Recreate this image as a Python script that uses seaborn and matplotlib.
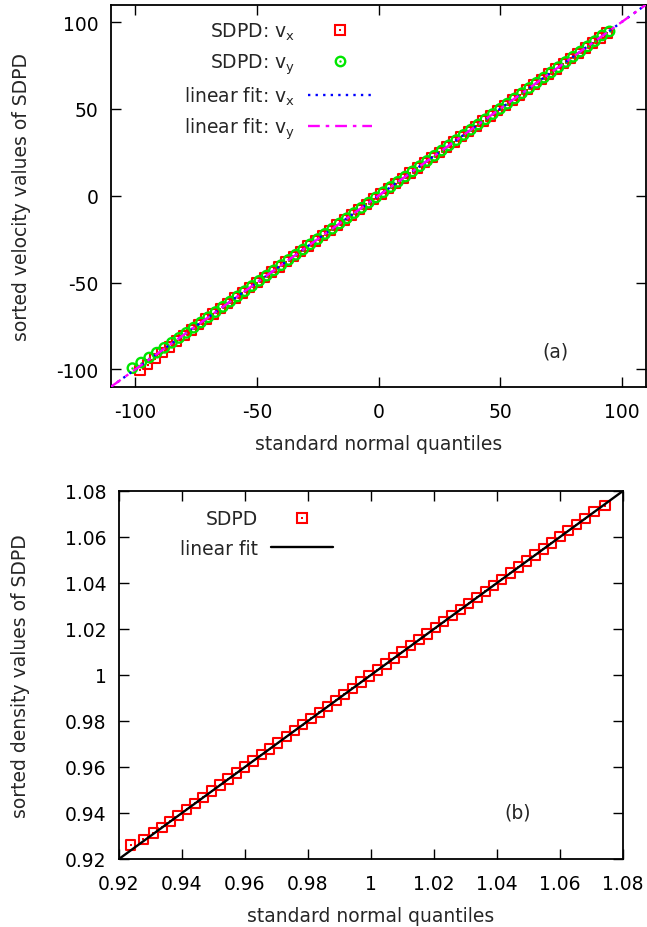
import numpy as np
import matplotlib
matplotlib.use("Agg")
import matplotlib.pyplot as plt
import seaborn as sns
from matplotlib.lines import Line2D
from matplotlib.legend_handler import HandlerTuple

# ---------------- data: panel (a) velocity Q-Q ----------------
vx_quantiles = [-98, -95, -92, -89, -86, -83, -80, -77, -74, -71, -68, -65, -62, -59, -56, -53,
                -50, -47, -44, -41, -38, -35, -32, -29, -26, -23, -20, -17, -14, -11, -8, -5,
                -2, 1, 4, 7, 10, 13, 16, 19, 22, 25, 28, 31, 34, 37, 40, 43, 46, 49, 52, 55,
                58, 61, 64, 67, 70, 73, 76, 79, 82, 85, 88, 91, 94]
vx_sorted = [-100.6, -97.3, -93.8, -90.4, -87.2, -83.8, -80.5, -77.3, -74.1, -71.0, -68.0, -65.0,
             -62.0, -59.0, -56.0, -53.0, -50.0, -47.0, -44.0, -41.0, -38.0, -35.0, -32.0, -29.0,
             -26.0, -23.0, -20.0, -17.0, -14.0, -11.0, -8.0, -5.0, -2.0, 1.0, 4.0, 7.0, 10.0,
             13.0, 16.0, 19.0, 22.0, 25.0, 28.0, 31.0, 34.0, 37.0, 40.0, 43.0, 46.0, 49.0, 52.0,
             55.0, 58.0, 61.0, 64.0, 67.0, 70.0, 73.0, 76.0, 79.0, 82.0, 85.0, 88.0, 90.7, 93.7]
vy_quantiles = [-101.2, -97.6, -94.3, -91.2, -88.1, -85, -82, -79, -76, -73, -70, -67, -64, -61,
                -58, -55, -52, -49, -46, -43, -40, -37, -34, -31, -28, -25, -22, -19, -16, -13,
                -10, -7, -4, -1, 2, 5, 8, 11, 14, 17, 20, 23, 26, 29, 32, 35, 38, 41, 44, 47,
                50, 53, 56, 59, 62, 65, 68, 71, 74, 77, 80, 83, 86, 89, 92, 95]
vy_sorted = [-99.3, -96.1, -93.2, -90.4, -87.6, -84.7, -81.9, -79.0, -76.0, -73.0, -70.0, -67.0,
             -64.0, -61.0, -58.0, -55.0, -52.0, -49.0, -46.0, -43.0, -40.0, -37.0, -34.0, -31.0,
             -28.0, -25.0, -22.0, -19.0, -16.0, -13.0, -10.0, -7.0, -4.0, -1.0, 2.0, 5.0, 8.0,
             11.0, 14.0, 17.0, 20.0, 23.0, 26.0, 29.0, 32.0, 35.0, 38.0, 41.0, 44.0, 47.0, 50.0,
             53.0, 56.0, 59.0, 62.0, 65.0, 68.0, 71.0, 74.0, 77.0, 80.0, 83.0, 86.0, 89.0, 92.3, 94.6]
fit_vx = (1.0, 0.0)   # slope, intercept
fit_vy = (1.0, 0.0)
ticks_a = [-100, -50, 0, 50, 100]

# ---------------- data: panel (b) density Q-Q ----------------
rho_quantiles = [0.9237, 0.9277, 0.9309, 0.9336, 0.9362, 0.9388, 0.9415, 0.9441, 0.9467, 0.9494,
                 0.9520, 0.9546, 0.9573, 0.9599, 0.9625, 0.9652, 0.9678, 0.9704, 0.9731, 0.9757,
                 0.9783, 0.9810, 0.9836, 0.9862, 0.9889, 0.9915, 0.9941, 0.9968, 0.9994, 1.0020,
                 1.0047, 1.0073, 1.0099, 1.0126, 1.0152, 1.0178, 1.0205, 1.0231, 1.0257, 1.0284,
                 1.0310, 1.0336, 1.0363, 1.0389, 1.0415, 1.0442, 1.0468, 1.0494, 1.0521, 1.0547,
                 1.0573, 1.0600, 1.0626, 1.0652, 1.0679, 1.0708, 1.0743]
rho_sorted = [0.9261, 0.9285, 0.9312, 0.9337, 0.9363, 0.9389, 0.9416, 0.9442, 0.9468, 0.9495,
              0.9521, 0.9547, 0.9574, 0.9600, 0.9626, 0.9653, 0.9679, 0.9705, 0.9732, 0.9758,
              0.9784, 0.9811, 0.9837, 0.9863, 0.9890, 0.9916, 0.9942, 0.9969, 0.9995, 1.0021,
              1.0048, 1.0074, 1.0100, 1.0127, 1.0153, 1.0179, 1.0206, 1.0232, 1.0258, 1.0285,
              1.0311, 1.0337, 1.0364, 1.0390, 1.0416, 1.0443, 1.0469, 1.0495, 1.0522, 1.0548,
              1.0574, 1.0601, 1.0627, 1.0653, 1.0680, 1.0710, 1.0736]
fit_rho = (1.0, 0.0)
ticks_b = [0.92, 0.94, 0.96, 0.98, 1.00, 1.02, 1.04, 1.06, 1.08]
tick_labels_b = ["0.92", "0.94", "0.96", "0.98", "1", "1.02", "1.04", "1.06", "1.08"]

# ---------------- style ----------------
sns.set_style("ticks")
plt.rcParams["font.family"] = ["DejaVu Sans"]
plt.rcParams["mathtext.fontset"] = "dejavusans"
plt.rcParams["axes.unicode_minus"] = False
FS = 13.5

RED = "#ff0000"
GREEN = "#00e600"
BLUE = "#0000ff"
MAGENTA = "#ff00ff"

fig = plt.figure(figsize=(6.47, 9.28), dpi=100)
ax1 = fig.add_axes([0.1716, 0.5822, 0.8269, 0.4117])
ax2 = fig.add_axes([0.1839, 0.0733, 0.7790, 0.3966])


def style_axes(ax):
    for sp in ax.spines.values():
        sp.set_visible(True)
        sp.set_linewidth(1.3)
        sp.set_color("black")
    ax.tick_params(direction="in", length=7, width=1.0, top=True, right=True,
                   labelsize=FS, colors="black")
    ax.tick_params(axis="x", pad=11)
    ax.tick_params(axis="y", pad=9)


MS = 6.8
MEW = 1.5
# ---------------- panel (a) ----------------
sns.scatterplot(x=vx_quantiles, y=vx_sorted, ax=ax1, marker="s", s=MS**2,
                facecolor="none", edgecolor=RED, linewidth=MEW, zorder=3)
sns.scatterplot(x=vx_quantiles, y=vx_sorted, ax=ax1, marker="s", s=3,
                color=RED, edgecolor=RED, linewidth=0, zorder=3)
sns.scatterplot(x=vy_quantiles, y=vy_sorted, ax=ax1, marker="o", s=MS**2,
                facecolor="none", edgecolor=GREEN, linewidth=MEW + 0.2, zorder=4)
sns.scatterplot(x=vy_quantiles, y=vy_sorted, ax=ax1, marker="o", s=3,
                color=GREEN, edgecolor=GREEN, linewidth=0, zorder=4)
ax1.set_xlim(-110, 110)
ax1.set_ylim(-110, 110)
xa = np.array(ax1.get_xlim())
sns.lineplot(x=xa, y=fit_vx[0] * xa + fit_vx[1], ax=ax1, color=BLUE, lw=1.7,
             linestyle=(0, (1, 2.2)), errorbar=None, zorder=5)
sns.lineplot(x=xa, y=fit_vy[0] * xa + fit_vy[1], ax=ax1, color=MAGENTA, lw=1.7,
             linestyle=(0, (5, 2.5, 1.5, 2.5)), errorbar=None, zorder=6)
ax1.set_xticks(ticks_a)
ax1.set_yticks(ticks_a)
ax1.set_xticklabels([str(t) for t in ticks_a])
ax1.set_yticklabels([str(t) for t in ticks_a])
style_axes(ax1)
ax1.set_xlabel("standard normal quantiles", fontsize=FS)
ax1.set_ylabel("sorted velocity values of SDPD", fontsize=FS)
ax1.xaxis.set_label_coords(0.5, -0.125)
ax1.yaxis.set_label_coords(-0.150, 0.5)
ax1.text(0.83, 0.093, "(a)", transform=ax1.transAxes, ha="center", va="center", fontsize=FS)

h_vx = (Line2D([], [], ls="none", marker="s", ms=MS, mfc="none", mec=RED, mew=MEW),
        Line2D([], [], ls="none", marker="s", ms=1.7, mfc=RED, mec=RED, mew=0))
h_vy = (Line2D([], [], ls="none", marker="o", ms=MS, mfc="none", mec=GREEN, mew=MEW + 0.2),
        Line2D([], [], ls="none", marker="o", ms=1.7, mfc=GREEN, mec=GREEN, mew=0))
h_fx = Line2D([], [], color=BLUE, lw=1.7, ls=(0, (1, 2.2)))
h_fy = Line2D([], [], color=MAGENTA, lw=1.7, ls=(0, (5, 2.5, 1.5, 2.5)))
leg1 = ax1.legend([h_vx, h_vy, h_fx, h_fy],
                  [r"SDPD: v$_{\rm x}$", r"SDPD: v$_{\rm y}$",
                   r"linear fit: v$_{\rm x}$", r"linear fit: v$_{\rm y}$"],
                  loc="upper right", bbox_to_anchor=(0.488, 0.958), markerfirst=False,
                  frameon=False, fontsize=FS, handlelength=3.4, handletextpad=0.7,
                  labelspacing=0.48, borderpad=0, borderaxespad=0,
                  handler_map={tuple: HandlerTuple(ndivide=1)})
for col in leg1._legend_handle_box.get_children():
    col.align = "right"

# ---------------- panel (b) ----------------
sns.scatterplot(x=rho_quantiles, y=rho_sorted, ax=ax2, marker="s", s=MS**2,
                facecolor="none", edgecolor=RED, linewidth=MEW, zorder=3)
sns.scatterplot(x=rho_quantiles, y=rho_sorted, ax=ax2, marker="s", s=3,
                color=RED, edgecolor=RED, linewidth=0, zorder=3)
ax2.set_xlim(0.92, 1.08)
ax2.set_ylim(0.92, 1.08)
xb = np.array(ax2.get_xlim())
sns.lineplot(x=xb, y=fit_rho[0] * xb + fit_rho[1], ax=ax2, color="black", lw=1.7,
             errorbar=None, zorder=4)
ax2.set_xticks(ticks_b)
ax2.set_yticks(ticks_b)
ax2.set_xticklabels(tick_labels_b)
ax2.set_yticklabels(tick_labels_b)
style_axes(ax2)
ax2.set_xlabel("standard normal quantiles", fontsize=FS)
ax2.set_ylabel("sorted density values of SDPD", fontsize=FS)
ax2.xaxis.set_label_coords(0.5, -0.128)
ax2.yaxis.set_label_coords(-0.177, 0.5)
ax2.text(0.79, 0.128, "(b)", transform=ax2.transAxes, ha="center", va="center", fontsize=FS)

h_rho = (Line2D([], [], ls="none", marker="s", ms=MS, mfc="none", mec=RED, mew=MEW),
         Line2D([], [], ls="none", marker="s", ms=1.7, mfc=RED, mec=RED, mew=0))
h_fit = Line2D([], [], color="black", lw=1.7)
leg2 = ax2.legend([h_rho, h_fit], ["SDPD", "linear fit"],
                  loc="upper right", bbox_to_anchor=(0.425, 0.950), markerfirst=False,
                  frameon=False, fontsize=FS, handlelength=3.3, handletextpad=0.7,
                  labelspacing=0.57, borderpad=0, borderaxespad=0,
                  handler_map={tuple: HandlerTuple(ndivide=1)})
for col in leg2._legend_handle_box.get_children():
    col.align = "right"

fig.savefig("out.png", dpi=100)
